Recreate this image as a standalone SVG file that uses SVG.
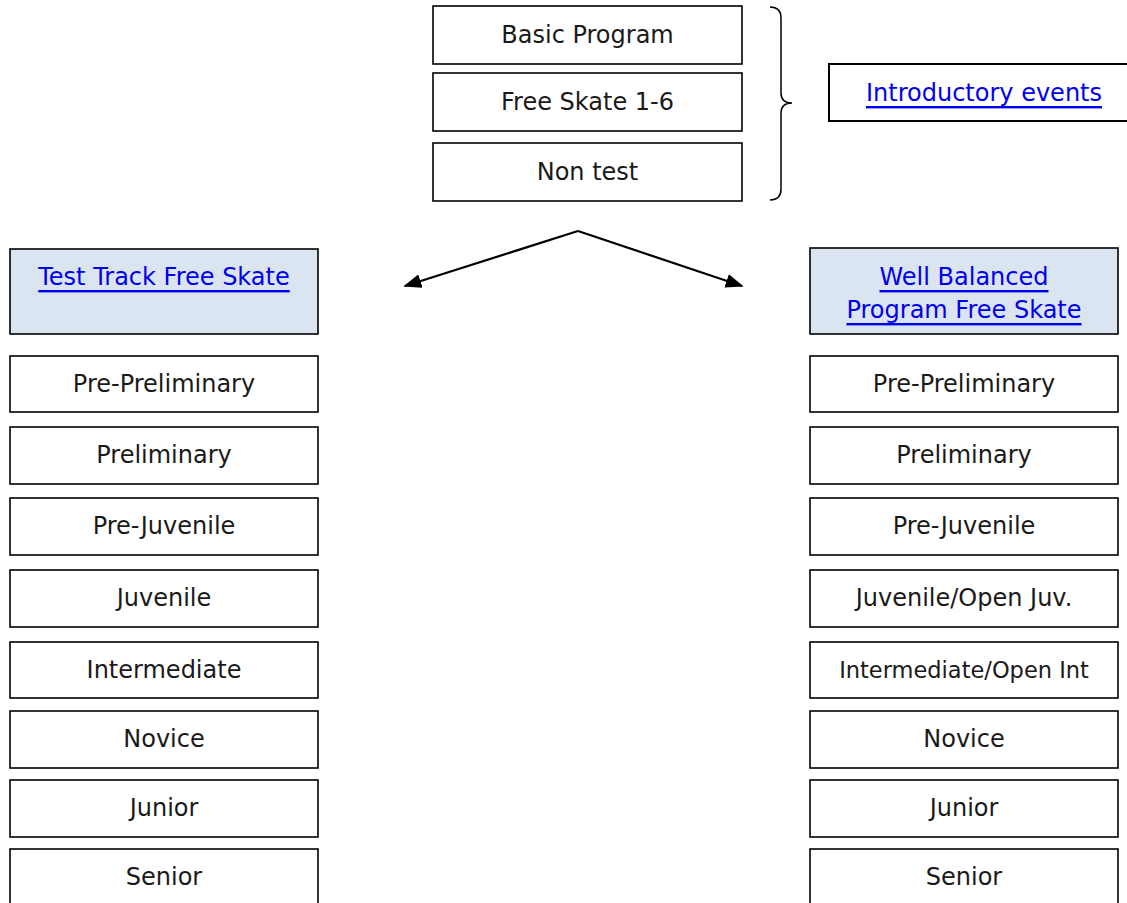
<svg xmlns="http://www.w3.org/2000/svg" width="1127" height="903" viewBox="0 0 1127 903">
<defs>
<style>
.box{fill:#ffffff;stroke:#000000;stroke-width:1.6}
.hdr{fill:#dbe5f1;stroke:#000000;stroke-width:1.6}
.t{font-family:"DejaVu Sans","Liberation Sans",sans-serif;font-size:24px;fill:#1a1a1a;text-anchor:middle;dominant-baseline:central}
.link{fill:#0000ee;text-decoration:underline}
.small{font-size:22.5px}
.conn{stroke:#000000;stroke-width:2.2;fill:none}
</style>
<marker id="ah" viewBox="0 0 10 10" refX="9" refY="5" markerWidth="18" markerHeight="14" markerUnits="userSpaceOnUse" orient="auto" preserveAspectRatio="none">
<path d="M0,0 L10,5 L0,10 z" fill="#000000"/>
</marker>
</defs>
<rect width="1127" height="903" fill="#ffffff"/>

<g id="connectors">
<path class="conn" d="M578,231 L405,286" marker-end="url(#ah)"/>
<path class="conn" d="M578,231 L742,286" marker-end="url(#ah)"/>
<path class="conn" d="M770,7 Q781,7 781,18 L781,93 Q781,103 792,103 Q781,103 781,113 L781,189 Q781,200 770,200" style="stroke-width:1.5"/>
</g>

<g id="basic-program"><rect class="box" x="433" y="6" width="309" height="58"/><text class="t" x="587.5" y="35">Basic Program</text></g>
<g id="free-skate-1-6"><rect class="box" x="433" y="73" width="309" height="58"/><text class="t" x="587.5" y="102">Free Skate 1-6</text></g>
<g id="non-test"><rect class="box" x="433" y="143" width="309" height="58"/><text class="t" x="587.5" y="172">Non test</text></g>
<g id="introductory-events"><rect class="box" x="829" y="64" width="300" height="57" style="stroke-width:2"/><text class="t link" x="984" y="93">Introductory events</text></g>

<g id="test-track"><rect class="hdr" x="10" y="249" width="308" height="85"/><text class="t link" x="164" y="277">Test Track Free Skate</text></g>
<g id="well-balanced"><rect class="hdr" x="810" y="248" width="308" height="86"/><text class="t link" x="964" y="277">Well Balanced</text><text class="t link" x="964" y="310">Program Free Skate</text></g>

<g id="tt-pre-preliminary"><rect class="box" x="10" y="356" width="308" height="56"/><text class="t" x="164" y="384">Pre-Preliminary</text></g>
<g id="tt-preliminary"><rect class="box" x="10" y="427" width="308" height="57"/><text class="t" x="164" y="455">Preliminary</text></g>
<g id="tt-pre-juvenile"><rect class="box" x="10" y="498" width="308" height="57"/><text class="t" x="164" y="526">Pre-Juvenile</text></g>
<g id="tt-juvenile"><rect class="box" x="10" y="570" width="308" height="57"/><text class="t" x="164" y="598">Juvenile</text></g>
<g id="tt-intermediate"><rect class="box" x="10" y="642" width="308" height="56"/><text class="t" x="164" y="670">Intermediate</text></g>
<g id="tt-novice"><rect class="box" x="10" y="711" width="308" height="57"/><text class="t" x="164" y="739">Novice</text></g>
<g id="tt-junior"><rect class="box" x="10" y="780" width="308" height="57"/><text class="t" x="164" y="808">Junior</text></g>
<g id="tt-senior"><rect class="box" x="10" y="849" width="308" height="60"/><text class="t" x="164" y="877">Senior</text></g>

<g id="wb-pre-preliminary"><rect class="box" x="810" y="356" width="308" height="56"/><text class="t" x="964" y="384">Pre-Preliminary</text></g>
<g id="wb-preliminary"><rect class="box" x="810" y="427" width="308" height="57"/><text class="t" x="964" y="455">Preliminary</text></g>
<g id="wb-pre-juvenile"><rect class="box" x="810" y="498" width="308" height="57"/><text class="t" x="964" y="526">Pre-Juvenile</text></g>
<g id="wb-juvenile"><rect class="box" x="810" y="570" width="308" height="57"/><text class="t" x="964" y="598">Juvenile/Open Juv.</text></g>
<g id="wb-intermediate"><rect class="box" x="810" y="642" width="308" height="56"/><text class="t small" x="964" y="670">Intermediate/Open Int</text></g>
<g id="wb-novice"><rect class="box" x="810" y="711" width="308" height="57"/><text class="t" x="964" y="739">Novice</text></g>
<g id="wb-junior"><rect class="box" x="810" y="780" width="308" height="57"/><text class="t" x="964" y="808">Junior</text></g>
<g id="wb-senior"><rect class="box" x="810" y="849" width="308" height="60"/><text class="t" x="964" y="877">Senior</text></g>
</svg>
